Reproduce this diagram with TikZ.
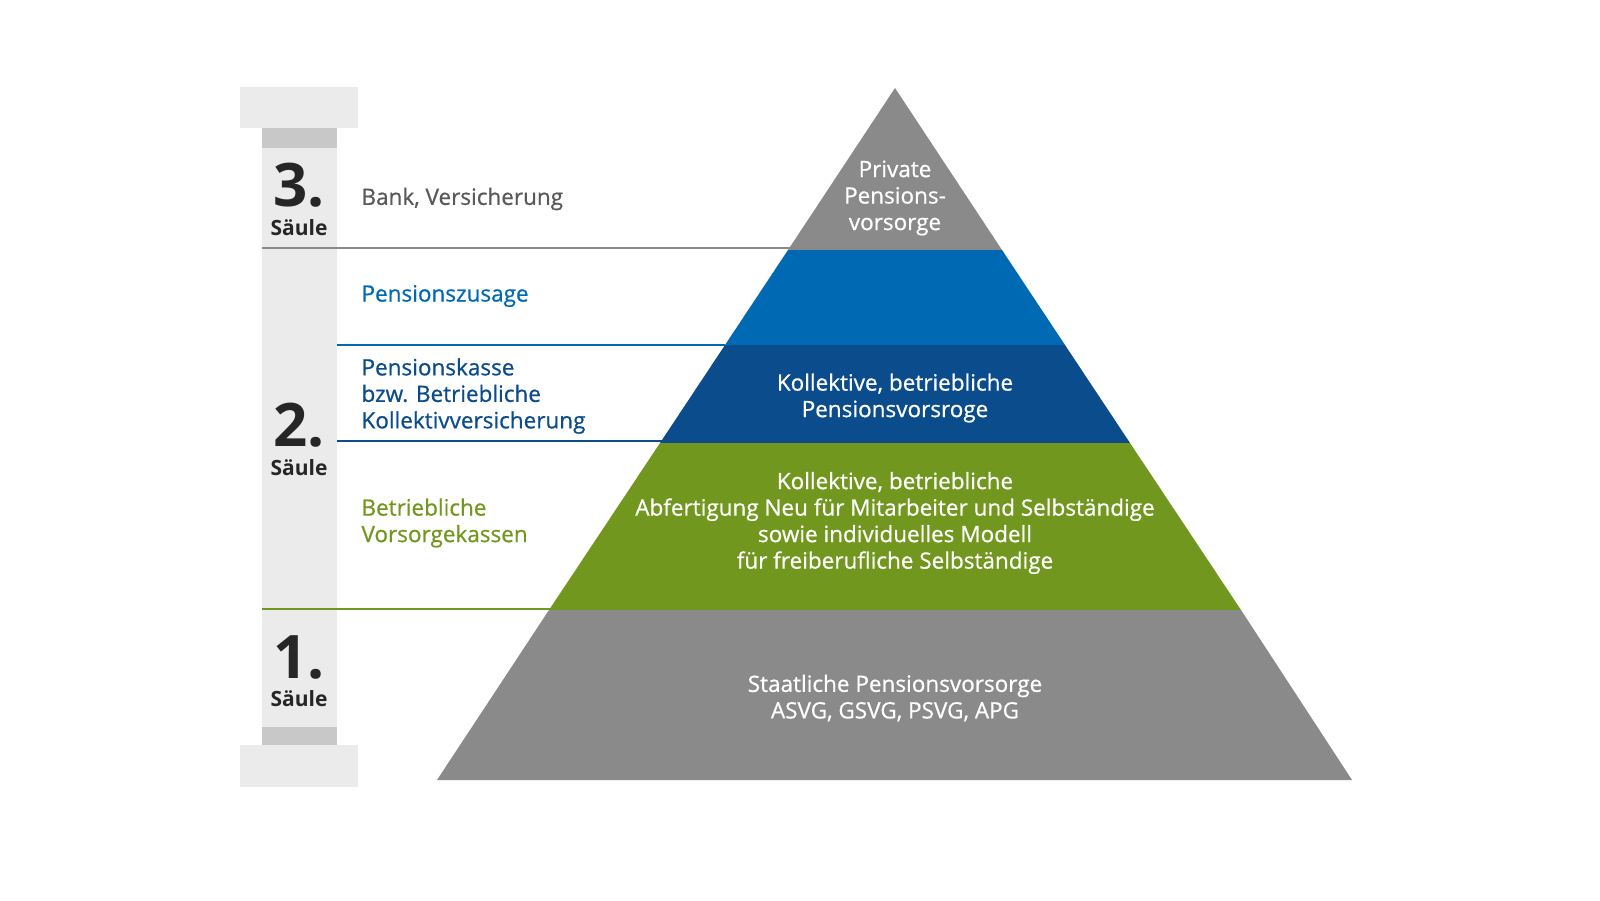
\documentclass[tikz,border=0pt]{standalone}
\usepackage{fontspec}
\setmainfont{Open Sans}
\newfontfamily\semifont{Open Sans}[FakeBold=0.7]
\definecolor{pgray}{HTML}{8A8A8A}
\definecolor{pblue}{HTML}{0069B4}
\definecolor{pdblue}{HTML}{0B4C8C}
\definecolor{pgreen}{HTML}{71971E}
\definecolor{colgray}{HTML}{EBEBEB}
\definecolor{coldark}{HTML}{C8C8C8}
\tikzset{
  band/.style={draw=none},
  intext/.style={text=white,align=center,font=\semifont\fontsize{22.5}{26.5}\selectfont},
  sidetext/.style={anchor=west,align=left,font=\semifont\fontsize{22.5}{26.5}\selectfont},
  num/.style={font=\fontsize{60}{60}\selectfont\bfseries,text=black!85},
  saeule/.style={font=\fontsize{21}{22}\selectfont\bfseries,text=black!85}
}
\begin{document}
\begin{tikzpicture}[x=1pt,y=-1pt]
  \useasboundingbox (0,0) rectangle (1600,900);
  % Saeule
  \fill [colgray] (240,87) rectangle (358,128);
  \fill [coldark] (262,128) rectangle (337,148);
  \fill [colgray] (262,148) rectangle (337,727);
  \fill [coldark] (262,727) rectangle (337,745);
  \fill [colgray] (240,745) rectangle (358,787);
  % Pyramide
  \fill [band,pgray] (895,88) -- (1002,250) -- (788,250) -- cycle;
  \fill [band,pblue] (788,250) -- (1002,250) -- (1065,345) -- (725,345) -- cycle;
  \fill [band,pdblue] (725,345) -- (1065,345) -- (1130,443) -- (660,443) -- cycle;
  \fill [band,pgreen] (660,443) -- (1130,443) -- (1241,610) -- (549,610) -- cycle;
  \fill [band,pgray] (549,610) -- (1241,610) -- (1352,780) -- (437,780) -- cycle;
  % Trennlinien
  \draw [pgray,line width=1.5] (262,248) -- (790,248);
  \draw [pblue,line width=1.5] (337,345) -- (725,345);
  \draw [pdblue,line width=1.5] (337,441) -- (662,441);
  \draw [pgreen,line width=1.5] (262,609) -- (550,609);
  % Nummern
  \node [num] (n3) at (299,185) {3.};
  \node [saeule] (s3) at (299,228) {Säule};
  \node [num] (n2) at (299,425) {2.};
  \node [saeule] (s2) at (299,468) {Säule};
  \node [num] (n1) at (299,657) {1.};
  \node [saeule] (s1) at (299,699) {Säule};
  % Beschriftungen links
  \node [sidetext,text=black!65] (bank) at (358,199) {Bank, Versicherung};
  \node [sidetext,text=pblue] (zusage) at (358,296) {Pensionszusage};
  \node [sidetext,text=pdblue] (kasse) at (358,396) {Pensionskasse\\bzw. Betriebliche\\Kollektivversicherung};
  \node [sidetext,text=pgreen] (vk) at (358,523) {Betriebliche\\Vorsorgekassen};
  % Beschriftungen Pyramide
  \node [intext] (priv) at (895,198) {Private\\Pensions-\\vorsorge};
  \node [intext] (koll) at (895,398) {Kollektive, betriebliche\\Pensionsvorsroge};
  \node [intext] (abf) at (895,523) {Kollektive, betriebliche\\Abfertigung Neu für Mitarbeiter und Selbständige\\sowie individuelles Modell\\für freiberufliche Selbständige};
  \node [intext] (staat) at (895,698) {Staatliche Pensionsvorsorge\\ASVG, GSVG, PSVG, APG};
\end{tikzpicture}
\end{document}
